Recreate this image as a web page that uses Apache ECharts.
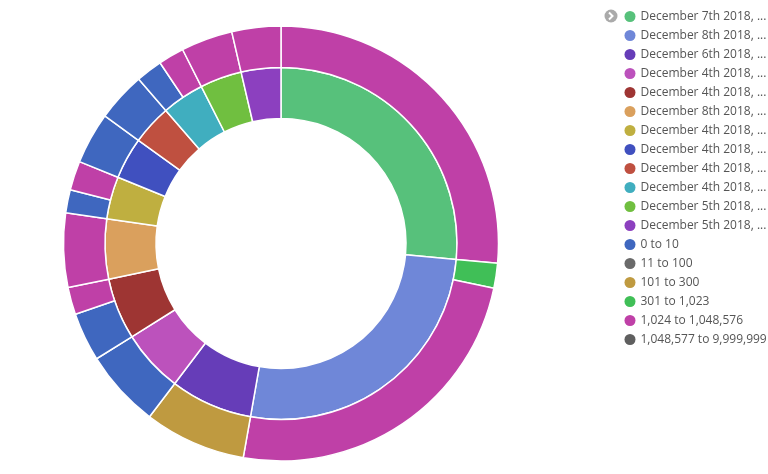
<!DOCTYPE html>
<html>
<head>
<meta charset="utf-8">
<script src="https://cdn.jsdelivr.net/npm/echarts@6/dist/echarts.min.js"></script>
<style>
html,body{margin:0;padding:0;background:#fff;}
#chart{width:768px;height:474px;}
</style>
</head>
<body>
<div id="chart"></div>
<script>
// Inner ring: date buckets (clockwise from top)
const innerNames = [
  "December 7th 2018, 00:00:00.000",
  "December 8th 2018, 00:00:00.000",
  "December 6th 2018, 00:00:00.000",
  "December 4th 2018, 10:00:00.000",
  "December 4th 2018, 11:00:00.000",
  "December 8th 2018, 12:00:00.000",
  "December 4th 2018, 12:00:00.000",
  "December 4th 2018, 13:00:00.000",
  "December 4th 2018, 14:00:00.000",
  "December 4th 2018, 15:00:00.000",
  "December 5th 2018, 00:00:00.000",
  "December 5th 2018, 12:00:00.000"
];
const innerValues = [952, 948, 272, 208, 203, 198, 140, 138, 132, 140, 138, 131];
const innerColors = ["#57c17b", "#6f87d8", "#663db8", "#bc52bc", "#9e3533", "#daa05d",
                     "#bfaf40", "#4050bf", "#bf5040", "#40aebf", "#70bf40", "#8c40bf"];

// Size range buckets
const rangeNames = ["0 to 10", "11 to 100", "101 to 300", "301 to 1,023", "1,024 to 1,048,576", "1,048,577 to 9,999,999"];
const rangeColors = ["#3f67bf", "#6a6a6a", "#bf9a40", "#40bf57", "#bf40a7", "#5f5f5f"];

// Outer ring: sub-buckets, in order clockwise (range index, value)
const outerRange = [4, 3, 4, 2, 0, 0, 4, 4, 0, 4, 0, 0, 0, 4, 4, 4, 1, 5];
const outerValues = [952, 67, 881, 272, 208, 130, 73, 198, 62, 78, 138, 132, 71, 69, 138, 131, 0, 0];

const innerData = innerNames.map((n, i) => ({name: n, value: innerValues[i], itemStyle: {color: innerColors[i]}}));
const outerData = outerRange.map((r, i) => ({
  name: rangeNames[r], value: outerValues[i],
  itemStyle: {color: rangeColors[r], borderWidth: outerValues[i] === 0 ? 0 : 1.5}
}));

const chart = echarts.init(document.getElementById('chart'), null, {renderer: 'canvas'});
chart.setOption({
  animation: false,
  legend: {
    orient: 'vertical',
    left: 619.5,
    top: 5.5,
    icon: 'circle',
    itemWidth: 11,
    itemHeight: 11,
    itemGap: 7,
    itemStyle: {borderWidth: 0},
    data: innerNames.concat(rangeNames),
    formatter: function (name) {
      return name.length > 22 ? name.slice(0, 19) + '...' : name;
    },
    textStyle: {fontFamily: 'Open Sans', fontSize: 12, color: '#555'}
  },
  graphic: [
    {type: 'circle', shape: {cx: 611, cy: 16, r: 6.5}, style: {fill: '#aaaaaa'}},
    {type: 'polyline', shape: {points: [[609, 12.5], [612.5, 16], [609, 19.5]]},
     style: {stroke: '#fff', lineWidth: 2, fill: null}}
  ],
  series: [
    {
      type: 'pie',
      center: [281, 243.5],
      radius: [125, 176],
      startAngle: 90,
      clockwise: true,
      label: {show: false},
      labelLine: {show: false},
      itemStyle: {borderColor: '#fff', borderWidth: 1.5},
      data: innerData
    },
    {
      type: 'pie',
      center: [281, 243.5],
      radius: [176, 217.5],
      startAngle: 90,
      clockwise: true,
      label: {show: false},
      labelLine: {show: false},
      itemStyle: {borderColor: '#fff', borderWidth: 1.5},
      data: outerData
    }
  ]
});
</script>
</body>
</html>
